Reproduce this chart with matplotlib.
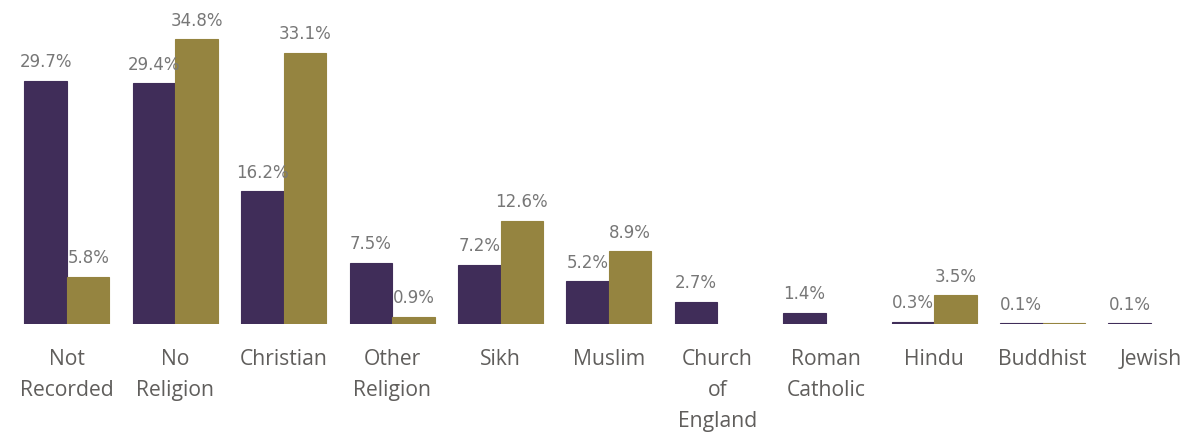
import numpy as np
import matplotlib
matplotlib.use("Agg")
import matplotlib.pyplot as plt

categories = ["Not\nRecorded", "No\nReligion", "Christian", "Other\nReligion", "Sikh",
              "Muslim", "Church\nof\nEngland", "Roman\nCatholic", "Hindu", "Buddhist", "Jewish"]
series_a = [29.7, 29.4, 16.2, 7.5, 7.2, 5.2, 2.7, 1.4, 0.3, 0.1, 0.1]
series_b = [5.8, 34.8, 33.1, 0.9, 12.6, 8.9, None, None, 3.5, 0.1, None]
# which values carry a data label
labels_a = [True] * 11
labels_b = [True, True, True, True, True, True, False, False, True, False, False]

color_a = "#402D59"
color_b = "#958440"
label_color = "#777777"
tick_color = "#605E5C"

fig = plt.figure(figsize=(11.98, 4.39), dpi=100)
ax = fig.add_axes([0.0, (439 - 325) / 439, 1.0, 325 / 439])

x = np.arange(len(categories))
w = 0.392

def draw(values, offset, color, show):
    for xi, v, s in zip(x, values, show):
        if v is None:
            continue
        ax.bar(xi + offset, v, width=w, align="edge", color=color,
               edgecolor=color, linewidth=0.8)
        if s:
            ax.annotate(f"{v:.1f}%", (xi + offset + w / 2, v), xytext=(0, 10.5),
                        textcoords="offset points", ha="center", va="baseline",
                        fontsize=12, color=label_color, family="DejaVu Sans")

draw(series_a, -w, color_a, labels_a)
draw(series_b, 0.0, color_b, labels_b)

ax.set_xlim(-0.618, 10.434)
ax.set_ylim(0, 39.7)
ax.set_xticks(x)
ax.set_xticklabels(categories, fontsize=15.2, color=tick_color, family="Open Sans",
                   linespacing=1.62)
ax.tick_params(axis="x", length=0, pad=17.5)
ax.set_yticks([])
for sp in ax.spines.values():
    sp.set_visible(False)

fig.savefig("out.png", dpi=100)
